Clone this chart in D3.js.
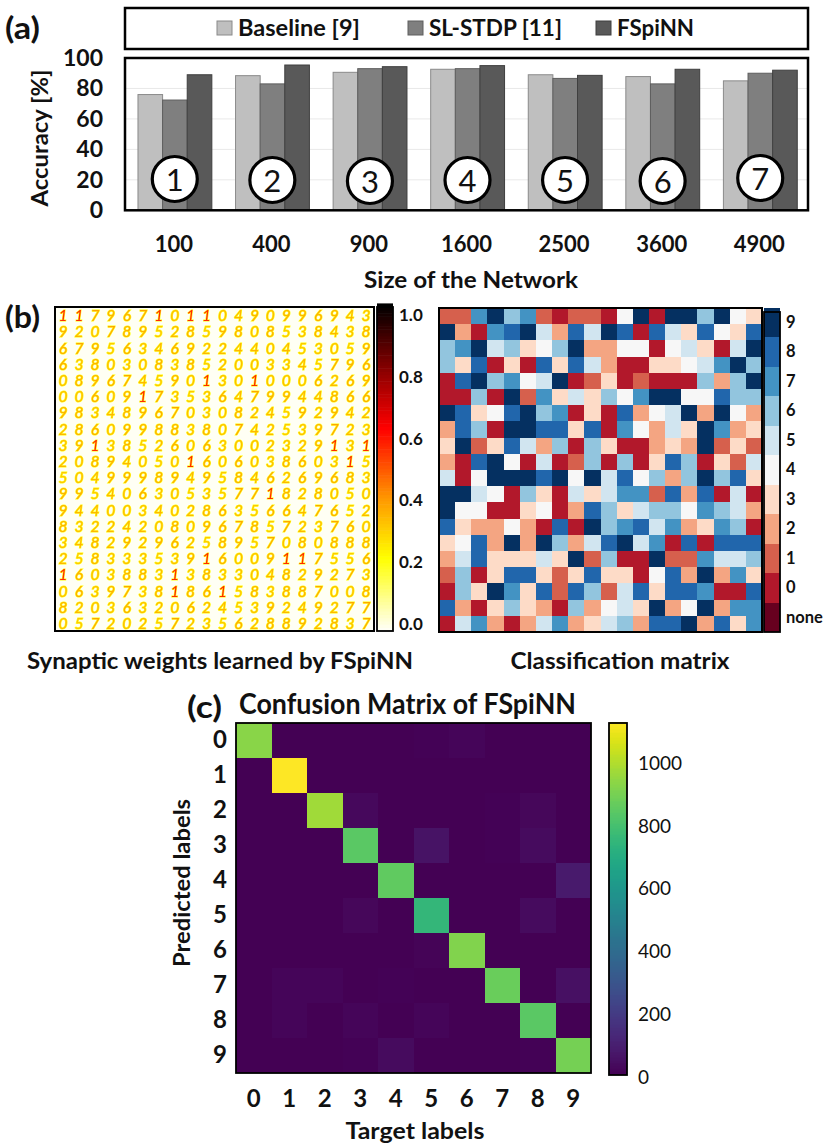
<!DOCTYPE html>
<html><head><meta charset="utf-8">
<style>html,body{margin:0;padding:0;background:#fff}svg{display:block}text{font-family:Lato,"Open Sans",sans-serif;fill:#111}</style>
<script src="https://cdnjs.cloudflare.com/ajax/libs/d3/7.8.5/d3.min.js"></script></head><body>
<svg id="c" width="831" height="1145"></svg>
<script>
const networkSizes=["100","400","900","1600","2500","3600","4900"];
const seriesNames=["Baseline [9]","SL-STDP [11]","FSpiNN"];
const baseline=[76,88.4,90.6,92.6,89,87.8,85];
const slstdp=[72.4,83,93,93,86.6,83,90];
const fspinn=[89,95.4,94.3,95,88.6,92.6,92];
const accuracyTicks=[0,20,40,60,80,100];
const classRows=[
"11796710110490996943",
"92078952859808538438",
"67956346922440453059",
"63803083852003345796",
"08967459013010006269",
"00609173536479944866",
"98348967030824592942",
"28609988380742539723",
"39138526063002329131",
"20894050160603860315",
"50499989495846269683",
"99540630535771828050",
"94400340286356647652",
"83224208096785723760",
"34829296258957080888",
"25833353916009117556",
"16038831383304829273",
"06397381861583887008",
"82036320624539249277",
"05720257235628892837"];
const classLabels=["none","0","1","2","3","4","5","6","7","8","9"];
const classColors=["#67001f","#b2182b","#d6604d","#f4a582","#fddbc7","#f7f7f7","#d1e5f0","#92c5de","#4393c3","#2166ac","#053061"];
const inkByDigit=[.34,.56,.35,.34,.35,.32,.37,.38,.36,.36];
const weightTicks=[0,.2,.4,.6,.8,1];
const targetLabels=["0","1","2","3","4","5","6","7","8","9"];
const confusion=[
[925,0,0,0,0,6,14,0,0,0],
[0,1125,0,0,0,0,0,0,0,0],
[0,0,965,22,0,0,0,8,18,0],
[0,0,4,835,0,55,0,5,35,0],
[0,0,0,0,850,0,4,0,0,75],
[0,0,0,18,0,745,0,0,35,0],
[0,0,0,0,0,10,910,0,0,0],
[0,15,15,0,8,0,0,870,0,45],
[0,15,0,15,0,15,3,0,835,3],
[0,4,2,6,35,2,0,3,5,890]];
const confusionTicks=[0,200,400,600,800,1000];

const svg=d3.select("#c");
function txt(s,x,y,size,w,anchor,len){
  const t=svg.append("text").attr("x",x).attr("y",y).attr("font-size",size).attr("font-weight",w||700)
   .attr("text-anchor",anchor||"start").attr("dominant-baseline","central").text(s);
  if(len)t.attr("textLength",len).attr("lengthAdjust","spacingAndGlyphs");
  return t;
}
function box(x0,y0,x1,y1,sw,col){svg.append("rect").attr("x",x0).attr("y",y0).attr("width",x1-x0).attr("height",y1-y0).attr("fill","none").attr("stroke",col||"#000").attr("stroke-width",sw);}
function styleAxis(g,size,w){g.select(".domain").remove();g.selectAll(".tick line").remove();g.selectAll("text").attr("font-size",size).attr("font-weight",w).style("fill","#111");}

/* ---------- (a) ---------- */
txt("(a)",5,27,30,700,"start",35);
box(125,8,808,49,2.5);
const swatchX=[217,408,596],labelX=[238,429,617],labelLen=[122,133,77];
const fills=["#bfbfbf","#7f7f7f","#595959"],strokes=["#8a8a8a","#5e5e5e","#3f3f3f"];
seriesNames.forEach((n,i)=>{
  svg.append("rect").attr("x",swatchX[i]).attr("y",21).attr("width",15).attr("height",14).attr("fill",fills[i]).attr("stroke",strokes[i]);
  txt(n,labelX[i],27,22,700,"start",labelLen[i]);
});
const xA=d3.scaleBand().domain(networkSizes).range([125,808]);
const xS=d3.scaleBand().domain(seriesNames).range([xA.bandwidth()*.133,xA.bandwidth()*.89]);
const yA=d3.scaleLinear().domain([0,100]).range([210.3,58]);
svg.append("g").selectAll("line").data(accuracyTicks.slice(1,5)).join("line")
  .attr("x1",125).attr("x2",808).attr("y1",d=>yA(d)).attr("y2",d=>yA(d)).attr("stroke","#e9e9e9");
[baseline,slstdp,fspinn].forEach((vals,s)=>{
  svg.append("g").selectAll("rect").data(vals).join("rect")
   .attr("x",(d,i)=>xA(networkSizes[i])+xS(seriesNames[s]))
   .attr("width",xS.bandwidth()).attr("y",d=>yA(d)).attr("height",d=>yA(0)-yA(d))
   .attr("fill",fills[s]).attr("stroke",strokes[s]).attr("stroke-width",1);
});
box(125,58,808,210.3,2.5);
const axL=svg.append("g").attr("transform","translate(103,0)").call(d3.axisLeft(yA).tickValues(accuracyTicks).tickSize(0).tickPadding(0));
styleAxis(axL,23,700);
const axB=svg.append("g").attr("transform","translate(0,236)").call(d3.axisBottom(xA).tickSize(0).tickPadding(0));
styleAxis(axB,22,700);
const circleDy=[179,180,181,180,180,181,178];
networkSizes.forEach((n,i)=>{
  const cx=xA(n)+xA.bandwidth()/2+1;
  svg.append("circle").attr("cx",cx).attr("cy",circleDy[i]).attr("r",22.5).attr("fill","#fff").attr("stroke","#000").attr("stroke-width",3.2);
  txt(String(i+1),cx,circleDy[i],31,400,"middle");
});
txt("Accuracy [%]",0,0,22,700,"middle",137).attr("transform","translate(39,138) rotate(-90)");
txt("Size of the Network",471,279,23,700,"middle",214);

/* ---------- (b) left ---------- */
txt("(b)",5,316,30,700,"start",35);
const hot=d3.scaleLinear().domain([0,.05,.22,.4,.62,.8,1]).range(["#fffff4","#ffffc0","#ffff00","#ff9a00","#ff0000","#8a0000","#000000"]).clamp(true);
const digits=classRows.map(r=>r.split("").map(Number));
const rowIdx=d3.range(20);
const xD=d3.scaleBand().domain(rowIdx).range([55,374]);
const yD=d3.scaleBand().domain(rowIdx).range([307,631]);
const defs=svg.append("defs");
defs.append("filter").attr("id","soft").append("feGaussianBlur").attr("stdDeviation",.45);
svg.append("rect").attr("x",55).attr("y",307).attr("width",319).attr("height",324).attr("fill",hot(0));
const coreG=svg.append("g").attr("filter","url(#soft)");
digits.forEach((row,r)=>{
  coreG.selectAll(null).data(row).join("text")
   .attr("x",(d,i)=>xD(i)+xD.bandwidth()/2).attr("y",yD(r)+yD.bandwidth()/2)
   .attr("text-anchor","middle").attr("dominant-baseline","central")
   .attr("font-size",15.5).attr("font-style","italic").attr("font-weight",400)
   .style("fill",d=>hot(inkByDigit[d]))
   .style("stroke",hot(.2)).style("stroke-width",1.1).style("paint-order","stroke")
   .text(d=>d);
});
box(55,307,374,631,2);
const yW=d3.scaleLinear().domain([0,1]).range([624,315]);
const hotSteps=d3.range(0,1.0001,.01);
const wStep=d3.scaleLinear().domain([0,1]).range([631,307]);
svg.append("g").selectAll("rect").data(hotSteps).join("rect")
 .attr("x",377).attr("width",16).attr("y",d=>wStep(d)-3.6).attr("height",3.8).attr("fill",d=>hot(d));
box(377,307,393,631,1.8);
const axW=svg.append("g").attr("transform","translate(399,0)").call(d3.axisRight(yW).tickValues(weightTicks).tickFormat(d3.format(".1f")).tickSize(0).tickPadding(0));
styleAxis(axW,17,700);
txt("Synaptic weights learned by FSpiNN",220,660,22,700,"middle",386);

/* ---------- (b) right ---------- */
const xC=d3.scaleBand().domain(rowIdx).range([439,762]);
const yC=d3.scaleBand().domain(rowIdx).range([308,632]);
const clsColor=d3.scaleOrdinal().domain(classLabels).range(classColors);
digits.forEach((row,r)=>{
  svg.append("g").attr("shape-rendering","crispEdges").selectAll("rect").data(row).join("rect")
   .attr("x",(d,i)=>xC(i)).attr("y",yC(r)).attr("width",xC.bandwidth()).attr("height",yC.bandwidth())
   .attr("fill",d=>clsColor(String(d)));
});
box(439,308,762,632,2);
const yCb=d3.scaleBand().domain(classLabels).range([632,308]);
svg.append("g").attr("shape-rendering","crispEdges").selectAll("rect").data(classLabels).join("rect")
 .attr("x",764).attr("width",16).attr("y",d=>yCb(d)).attr("height",yCb.bandwidth()).attr("fill",d=>clsColor(d));
box(764,312,780,632,1.8);
const axCb=svg.append("g").attr("transform","translate(786,0)").call(d3.axisRight(yCb).tickSize(0).tickPadding(0));
styleAxis(axCb,16.5,700);
txt("Classification matrix",620,660,22,700,"middle",219);

/* ---------- (c) ---------- */
txt("(c)",187,706,30,700,"start",35);
txt("Confusion Matrix of FSpiNN",407.5,703,28,700,"middle",337);
const xM=d3.scaleBand().domain(targetLabels).range([236,591]);
const yM=d3.scaleBand().domain(targetLabels).range([723,1073]);
const vir=d3.scaleSequential(d3.interpolateViridis).domain([0,1125]);
confusion.forEach((row,r)=>{
  svg.append("g").attr("shape-rendering","crispEdges").selectAll("rect").data(row).join("rect")
   .attr("x",(d,i)=>xM(targetLabels[i])).attr("y",yM(targetLabels[r])).attr("width",xM.bandwidth()).attr("height",yM.bandwidth())
   .attr("fill",d=>vir(d));
});
box(236,723,591,1073,1.8);
const axMb=svg.append("g").attr("transform","translate(0,1097)").call(d3.axisBottom(xM).tickSize(0).tickPadding(0));
styleAxis(axMb,24,700);
axMb.selectAll("text").attr("dy",0).attr("dominant-baseline","central").attr("y",0);
const axMl=svg.append("g").attr("transform","translate(227,0)").call(d3.axisLeft(yM).tickSize(0).tickPadding(0));
styleAxis(axMl,24,700);
txt("Predicted labels",0,0,23,700,"middle",168).attr("transform","translate(181,883) rotate(-90)");
txt("Target labels",415,1130,23,700,"middle",139);
const yV=d3.scaleLinear().domain([0,1125]).range([1075,722]);
svg.append("g").attr("shape-rendering","crispEdges").selectAll("rect").data(d3.range(0,1125,5)).join("rect")
 .attr("x",609).attr("width",18).attr("y",d=>yV(d+5)).attr("height",d=>yV(d)-yV(d+5)+.4).attr("fill",d=>vir(d));
box(609,723,627,1075,1.8);
const axV=svg.append("g").attr("transform","translate(638,2)").call(d3.axisRight(yV).tickValues(confusionTicks).tickFormat(d3.format("d")).tickSize(0).tickPadding(0));
styleAxis(axV,19,400);
</script></body></html>
